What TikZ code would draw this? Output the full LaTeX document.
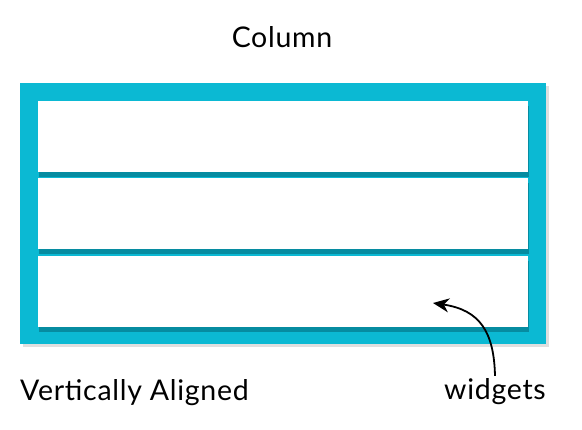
\documentclass[tikz,border=0pt]{standalone}
\usepackage{fontspec}
\setmainfont{Lato}[LetterSpace=2.5]
\usetikzlibrary{arrows.meta, positioning, shadows}
\definecolor{colcyan}{RGB}{11,185,211}
\definecolor{colshade}{RGB}{6,136,156}
\tikzset{>={Stealth[length=16pt,width=14pt,inset=5pt]}}

\begin{document}
\begin{tikzpicture}[x=1pt,y=-1pt,
	frame/.style={fill=colcyan, draw=none, inner sep=0pt, minimum width=526pt, minimum height=261pt,
		drop shadow={opacity=0.25, shadow xshift=3pt, shadow yshift=-3pt}},
	widget/.style={fill=white, draw=none, inner sep=0pt, minimum width=490pt, minimum height=71pt,
		drop shadow={fill=colshade, opacity=0.9, shadow xshift=1pt, shadow yshift=-5pt}},
	lbl/.style={font=\fontsize{28.5}{34}\selectfont, inner sep=0pt}]

	\useasboundingbox (0,0) rectangle (582,430);

	% the column and its rows
	\node [frame] (column) at (283,213.5) {};
	\node [widget] (row1) at (283,136.5) {};
	\node [widget, below=6pt of row1] (row2) {};
	\node [widget, below=6pt of row2] (row3) {};

	% labels
	\node [lbl, anchor=base] (title) at (282,48) {Column};
	\node [lbl, anchor=base west] (vert) at (20,401) {Vertically Aligned};
	\node [lbl, anchor=base, inner sep=3pt] (widgets) at (495,400) {widgets};

	\coordinate (tip) at (433,303);
	\draw [->, line width=1.8pt] (widgets.north) .. controls (494,332) and (480,310) .. (tip);

\end{tikzpicture}
\end{document}
